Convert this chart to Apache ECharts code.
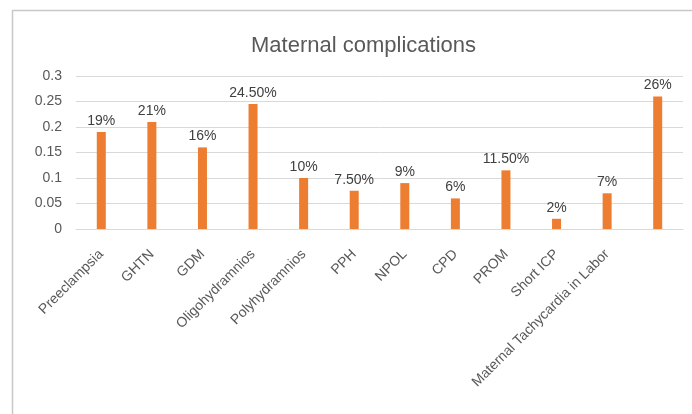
<!DOCTYPE html>
<html>
<head>
<meta charset="utf-8">
<script src="https://cdn.jsdelivr.net/npm/echarts@6/dist/echarts.min.js"></script>
<style>html,body{margin:0;padding:0;background:#fff;}#c{width:692px;height:414px;}</style>
</head>
<body>
<div id="c"></div>
<script>
var titleText = 'Maternal complications';
var categories = ['Preeclampsia','GHTN','GDM','Oligohydramnios','Polyhydramnios','PPH','NPOL','CPD','PROM','Short ICP','Maternal Tachycardia in Labor',''];
var values = [0.19, 0.21, 0.16, 0.245, 0.10, 0.075, 0.09, 0.06, 0.115, 0.02, 0.07, 0.26];
var dataLabels = ['19%','21%','16%','24.50%','10%','7.50%','9%','6%','11.50%','2%','7%','26%'];
var yTicks = [0, 0.05, 0.1, 0.15, 0.2, 0.25, 0.3];

var chart = echarts.init(document.getElementById('c'), null, {renderer:'canvas'});
var font = '"Liberation Sans", "DejaVu Sans", sans-serif';
chart.setOption({
  animation: false,
  backgroundColor: '#ffffff',
  graphic: [{
    type: 'rect',
    shape: {x: 12.5, y: 10.5, width: 700, height: 420},
    style: {fill: 'none', stroke: '#c8c8c8', lineWidth: 1.5},
    silent: true
  }],
  title: {
    text: titleText,
    left: 246,
    top: 30,
    textStyle: {fontFamily: font, fontSize: 22, fontWeight: 'normal', color: '#595959'}
  },
  grid: {left: 76, right: 9, top: 76, bottom: 185, containLabel: false},
  xAxis: {
    type: 'category',
    data: categories,
    axisLine: {lineStyle: {color: '#d9d9d9', width: 1}},
    axisTick: {show: false},
    axisLabel: {rotate: 45, interval: 0, margin: 23, color: '#595959', fontSize: 14, fontFamily: font}
  },
  yAxis: {
    type: 'value',
    min: yTicks[0],
    max: yTicks[yTicks.length - 1],
    interval: 0.05,
    axisLine: {show: false},
    axisTick: {show: false},
    splitLine: {lineStyle: {color: '#d9d9d9', width: 1}},
    axisLabel: {margin: 14, color: '#595959', fontSize: 14, fontFamily: font,
      formatter: function (v) { return String(Math.round(v * 100) / 100); }}
  },
  series: [{
    type: 'bar',
    data: values,
    barWidth: 9,
    itemStyle: {color: '#ED7D31'},
    label: {
      show: true,
      position: 'top',
      distance: 4,
      color: '#404040',
      fontSize: 14,
      fontFamily: font,
      formatter: function (p) { return dataLabels[p.dataIndex]; }
    }
  }]
});
</script>
</body>
</html>
